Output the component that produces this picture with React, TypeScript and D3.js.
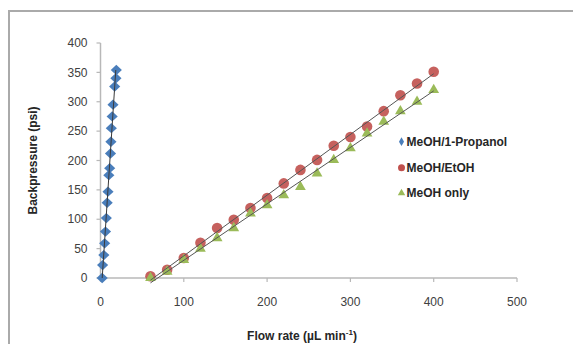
import React from 'react';
import * as d3 from 'd3';

// MeOH/1-Propanol (blue diamonds)
const propanolFlow = [2, 2.5, 4, 5, 6, 7, 8, 9, 10, 11, 12, 12.5, 13, 14, 15, 17, 18.5, 19];
const propanolPressure = [0, 22, 39, 59, 79, 102, 128, 147, 175, 187, 212, 232, 255, 275, 295, 326, 340, 354];

// MeOH/EtOH and MeOH only share the flow rates
const flowRates = [60, 80, 100, 120, 140, 160, 180, 200, 220, 240, 260, 280, 300, 320, 340, 360, 380, 400];
const etohPressure = [3, 14, 34, 60, 85, 99, 119, 136, 161, 184, 201, 225, 240, 258, 284, 311, 331, 351];
const meohPressure = [0, 11, 31, 50, 68, 85, 110, 124, 141, 155, 178, 201, 221, 246, 266, 284, 300, 320];

const xTicks = [0, 100, 200, 300, 400, 500];
const yTicks = [0, 50, 100, 150, 200, 250, 300, 350, 400];

const legendLabels = ['MeOH/1-Propanol', 'MeOH/EtOH', 'MeOH only'];

const W = 573;
const H = 344;
const margin = { left: 100.5, right: 56, top: 43, bottom: 66 };

const BLUE = '#4A7EBB';
const RED = '#C0504D';
const GREEN = '#9BBB59';

function fit(xs: number[], ys: number[]) {
  const mx = d3.mean(xs) as number;
  const my = d3.mean(ys) as number;
  let num = 0;
  let den = 0;
  xs.forEach((x, i) => {
    num += (x - mx) * (ys[i] - my);
    den += (x - mx) * (x - mx);
  });
  const b = num / den;
  return { a: my - b * mx, b };
}

export default function App() {
  const x = d3.scaleLinear().domain([0, 500]).range([margin.left, W - margin.right]);
  const y = d3.scaleLinear().domain([0, 400]).range([H - margin.bottom, margin.top]);

  const diamond = d3.symbol().type(d3.symbolDiamond).size(55)() as string;
  const triangle = d3.symbol().type(d3.symbolTriangle).size(50)() as string;

  // trendlines
  const propFit = fit(propanolPressure, propanolFlow); // flow as function of pressure
  const pMax = d3.max(propanolPressure) as number;
  const etFit = fit(flowRates, etohPressure);
  const meFit = fit(flowRates, meohPressure);
  const fMin = d3.min(flowRates) as number;
  const fMax = d3.max(flowRates) as number;

  const axisColor = '#b8b8b8';
  const textColor = '#404040';
  const font = 'Liberation Sans, Arial, sans-serif';

  const legendX = 401.5;
  const legendY = [141.7, 167.7, 193];

  return (
    <svg width={W} height={H} style={{ position: 'absolute', left: 0, top: 0, background: '#fff' }} fontFamily={font}>
      {/* chart frame */}
      <rect x={9} y={11} width={W + 20} height={H + 20} fill="none" stroke="#aaaaaa" strokeWidth={2} />

      {/* axes */}
      <line x1={x(0)} x2={x(500)} y1={y(0)} y2={y(0)} stroke={axisColor} strokeWidth={1.5} />
      <line x1={x(0)} x2={x(0)} y1={y(0)} y2={y(400)} stroke={axisColor} strokeWidth={1.5} />
      {yTicks.map(t => (
        <g key={'y' + t}>
          <line x1={x(0) - 4} x2={x(0)} y1={y(t)} y2={y(t)} stroke={axisColor} strokeWidth={1.2} />
          <text x={x(0) - 13} y={y(t)} dy="0.35em" textAnchor="end" fontSize={12} fill={textColor}>{t}</text>
        </g>
      ))}
      {xTicks.map(t => (
        <g key={'x' + t}>
          <line x1={x(t)} x2={x(t)} y1={y(0)} y2={y(0) + 4} stroke={axisColor} strokeWidth={1.2} />
          <text x={x(t)} y={y(0) + 24} dy="0.35em" textAnchor="middle" fontSize={12} fill={textColor}>{t}</text>
        </g>
      ))}

      {/* axis titles */}
      <text transform={`translate(33,${(y(0) + y(400)) / 2}) rotate(-90)`} textAnchor="middle" dy="0.35em"
        fontSize={12} fontWeight="bold" fill="#262626">Backpressure (psi)</text>
      <text x={302} y={335.5} dy="0.35em" textAnchor="middle" fontSize={12} fontWeight="bold" fill="#262626">
        Flow rate (µL min<tspan dy="-5" fontSize={8}>-1</tspan><tspan dy="5">)</tspan>
      </text>

      {/* markers */}
      {flowRates.map((f, i) => (
        <circle key={'r' + i} cx={x(f)} cy={y(etohPressure[i])} r={5.3} fill={RED} opacity={0.9} />
      ))}
      {flowRates.map((f, i) => (
        <path key={'g' + i} d={triangle} transform={`translate(${x(f)},${y(meohPressure[i])})`} fill={GREEN} />
      ))}
      {propanolFlow.map((f, i) => (
        <path key={'b' + i} d={diamond} transform={`translate(${x(f)},${y(propanolPressure[i])}) scale(1.4,0.75)`} fill={BLUE} />
      ))}

      {/* trendlines */}
      <line x1={x(propFit.a)} y1={y(0)} x2={x(propFit.a + propFit.b * pMax)} y2={y(pMax)} stroke="#3a3a3a" strokeWidth={1} />
      <line x1={x(fMin)} y1={y(etFit.a + etFit.b * fMin)} x2={x(fMax)} y2={y(etFit.a + etFit.b * fMax)} stroke="#555" strokeWidth={1} />
      <line x1={x(fMin)} y1={y(meFit.a + meFit.b * fMin)} x2={x(fMax)} y2={y(meFit.a + meFit.b * fMax)} stroke="#555" strokeWidth={1} />

      {/* legend */}
      <g>
        <path d={d3.symbol().type(d3.symbolDiamond).size(22)() as string} transform={`translate(${legendX},${legendY[0]})`} fill={BLUE} />
        <circle cx={legendX} cy={legendY[1]} r={3.5} fill={RED} />
        <path d={d3.symbol().type(d3.symbolTriangle).size(24)() as string} transform={`translate(${legendX},${legendY[2]})`} fill={GREEN} />
        {legendLabels.map((l, i) => (
          <text key={l} x={legendX + 5} y={legendY[i]} dy="0.35em" fontSize={12} fontWeight="bold" fill="#262626">{l}</text>
        ))}
      </g>
    </svg>
  );
}
